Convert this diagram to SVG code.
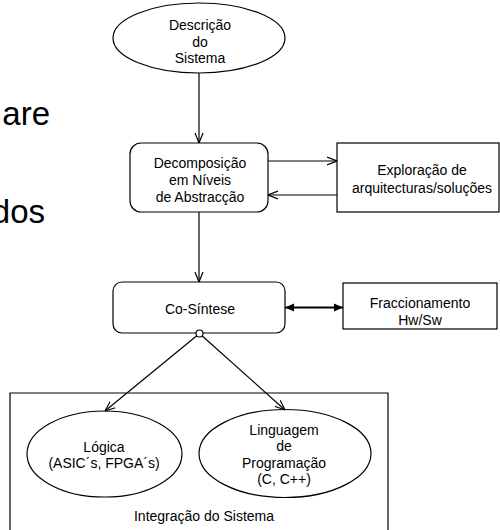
<svg xmlns="http://www.w3.org/2000/svg" width="500" height="530" viewBox="0 0 500 530">
  <style>
    .shape { fill: #ffffff; stroke: #000000; stroke-width: 1.2; }
    .frame { fill: none; stroke: #000000; stroke-width: 1.2; }
    .line { fill: none; stroke: #000000; stroke-width: 1.2; }
    .thick { fill: none; stroke: #000000; stroke-width: 2; }
    text { font-family: "Liberation Sans", Arial, sans-serif; font-size: 14px; fill: #000000; text-anchor: middle; }
    .big { font-size: 33px; text-anchor: end; }
  </style>
  <defs>
    <marker id="open" viewBox="0 0 10 10" refX="10" refY="5" markerWidth="10" markerHeight="10" markerUnits="userSpaceOnUse" orient="auto">
      <path d="M0,1 L10,5 L0,9" fill="none" stroke="#000000" stroke-width="1.2"/>
    </marker>
    <marker id="solid" viewBox="0 0 10 10" refX="10" refY="5" markerWidth="9" markerHeight="9" markerUnits="userSpaceOnUse" orient="auto-start-reverse">
      <path d="M0,0.5 L10,5 L0,9.5 Z" fill="#000000"/>
    </marker>
  </defs>

  <!-- partial slide text on the left -->
  <text class="big" x="50" y="125">are</text>
  <text class="big" x="45" y="223">dos</text>

  <!-- integration frame (open at the bottom) -->
  <g id="integracao">
    <path class="frame" d="M10,531 L10,393 L388,393 L388,531"/>
    <text x="204" y="521">Integração do Sistema</text>
  </g>

  <g id="descricao">
    <ellipse class="shape" cx="199" cy="38" rx="86" ry="35"/>
    <text x="200" y="30">Descrição</text>
    <text x="200" y="46.5">do</text>
    <text x="200" y="63">Sistema</text>
  </g>

  <g id="decomposicao">
    <rect class="shape" x="130" y="143" width="138" height="69" rx="11"/>
    <text x="200" y="168">Decomposição</text>
    <text x="200" y="185">em Níveis</text>
    <text x="200" y="202">de Abstracção</text>
  </g>

  <g id="exploracao">
    <rect class="shape" x="337" y="143" width="162" height="69"/>
    <text x="422" y="174.5">Exploração de</text>
    <text x="422" y="192.5">arquitecturas/soluções</text>
  </g>

  <g id="cosintese">
    <rect class="shape" x="113" y="282" width="172" height="51" rx="9"/>
    <text x="200" y="314">Co-Síntese</text>
  </g>

  <g id="fraccionamento">
    <rect class="shape" x="343" y="283" width="154" height="46"/>
    <text x="420" y="307.5">Fraccionamento</text>
    <text x="420" y="324.5">Hw/Sw</text>
  </g>

  <g id="logica">
    <ellipse class="shape" cx="104.5" cy="454" rx="77.5" ry="43"/>
    <text x="104" y="451.5">Lógica</text>
    <text x="104" y="468">(ASIC´s, FPGA´s)</text>
  </g>

  <g id="linguagem">
    <ellipse class="shape" cx="285" cy="453.5" rx="86" ry="44"/>
    <text x="284" y="435">Linguagem</text>
    <text x="284" y="450.5">de</text>
    <text x="284" y="467.5">Programação</text>
    <text x="284" y="484">(C, C++)</text>
  </g>

  <g id="connectors">
    <line class="line" x1="199" y1="73" x2="199" y2="143" marker-end="url(#open)"/>
    <line class="line" x1="268" y1="161" x2="337" y2="161" marker-end="url(#open)"/>
    <line class="line" x1="337" y1="195" x2="268" y2="195" marker-end="url(#open)"/>
    <line class="line" x1="199" y1="212" x2="199" y2="282" marker-end="url(#open)"/>
    <line class="thick" x1="285" y1="307.5" x2="343" y2="307.5" marker-start="url(#solid)" marker-end="url(#solid)"/>
    <line class="line" x1="199.5" y1="333.5" x2="105" y2="411" marker-end="url(#open)"/>
    <line class="line" x1="199.5" y1="333.5" x2="285" y2="410" marker-end="url(#open)"/>
    <circle class="shape" cx="199.5" cy="333.5" r="3.5"/>
  </g>
</svg>
